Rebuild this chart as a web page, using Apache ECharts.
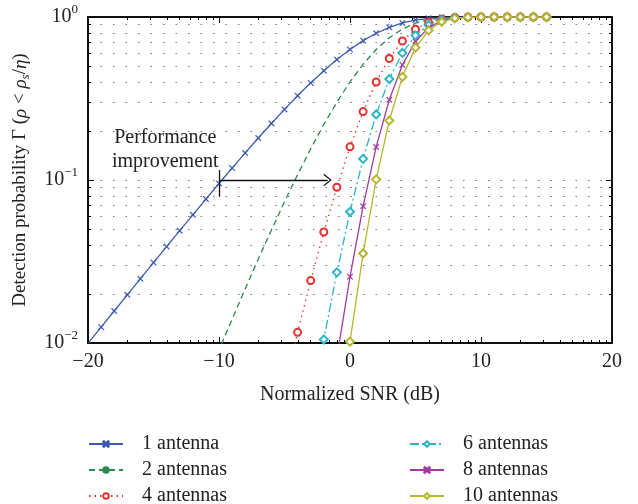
<!DOCTYPE html>
<html><head><meta charset="utf-8">
<script src="https://cdn.jsdelivr.net/npm/echarts@6/dist/echarts.min.js"></script>
<style>html,body{margin:0;padding:0;background:#fff}#c{width:638px;height:504px}</style>
</head><body><div id="c"></div>
<script>
// ---- data ----
const snr = [-20,-19,-18,-17,-16,-15,-14,-13,-12,-11,-10,-9,-8,-7,-6,-5,-4,-3,-2,-1,0,1,2,3,4,5,6,7,8,9,10,11,12,13,14,15];
const seriesNames = ['1 antenna','2 antennas','4 antennas','6 antennas','8 antennas','10 antennas'];
const ant1 = [0.00995,0.01251,0.01572,0.01976,0.02481,0.03113,0.03903,0.04888,0.06115,0.07636,
              0.09516,0.1183,0.1466,0.1809,0.2221,0.2711,0.3284,0.3942,0.4679,0.5481,
              0.6321,0.7160,0.7950,0.8640,0.9189,0.9577,0.9813,0.9933,0.9982,0.9996,
              1,1,1,1,1,1];
const ant2 = ['-','-','-','-','-','-','-','-','-',0.00583,
              0.009056,0.01399,0.02148,0.03272,0.04934,0.07350,0.1079,0.1554,0.2189,0.3004,
              0.3996,0.5127,0.6321,0.7465,0.8444,0.9171,0.9630,0.9867,0.9964,0.9993,
              0.9999,1,1,1,1,1];
const ant4 = ['-','-','-','-','-','-','-','-','-','-','-','-','-','-','-',
              0.005402,0.01163,0.02414,0.04794,0.09026,0.1597,0.2629,0.3995,0.5573,0.7129,0.8411,0.9274,0.9736,0.9927,0.9986,0.9998,
              1,1,1,1,1];
const ant6 = ['-','-','-','-','-','-','-','-','-','-','-','-','-','-','-','-','-',
              0.003752,0.01050,0.02712,0.06380,0.1348,0.2525,0.4161,0.6020,0.7714,0.8931,0.9607,0.9891,0.9979,0.9997,
              1,1,1,1,1];
const ant8 = ['-','-','-','-','-','-','-','-','-','-','-','-','-','-','-','-','-','-',
              0.002298,0.008147,0.02549,0.06910,0.1596,0.3106,0.5083,0.7075,0.8601,0.9480,0.9855,0.9972,0.9996,
              1,1,1,1,1];
const ant10 = ['-','-','-','-','-','-','-','-','-','-','-','-','-','-','-','-','-','-','-',
              0.002448,0.01019,0.03543,0.1009,0.2319,0.4292,0.6489,0.8283,0.9354,0.9820,0.9965,0.9995,
              1,1,1,1,1];
const allValues = [ant1, ant2, ant4, ant6, ant8, ant10];

// ticks
const xDecades = [-20,-10,0,10];
const xMinorOffsets = [3.0103,4.7712,6.0206,6.9897,7.7815,8.4510,9.0309,9.5424];
const yMinor = [0.02,0.03,0.04,0.05,0.06,0.07,0.08,0.09,0.2,0.3,0.4,0.5,0.6,0.7,0.8,0.9];

// annotation
const annoText = 'Performance\nimprovement';
const annoTextAt = [-14.1, 0.153];
const arrowFrom = [-10, 0.1];
const arrowTo = [-1.7, 0.1];
const barFrom = [-10, 0.115];
const barTo = [-10, 0.079];

// ---- style ----
const FONT = '"Liberation Serif","DejaVu Serif",serif';
const FS = 20;
const colors = ['#3d5aae','#2a8a52','#e8302f','#2bb5c6','#a23aa0','#b5b52e'];
const lineTypes = ['solid',[6,4],[1.5,4],[9,3,2,3],'solid','solid'];
const XPATH = 'path://M0,1.2 L1.2,0 L5,3.8 L8.8,0 L10,1.2 L6.2,5 L10,8.8 L8.8,10 L5,6.2 L1.2,10 L0,8.8 L3.8,5 Z';
const symbols = [XPATH,'circle','emptyCircle','emptyDiamond',XPATH,'emptyDiamond'];
const symbolSizes = [6,0,7,8,6,8];
const showSym = [true,false,true,true,true,true];
const CHEVRON = 'path://M0,20 L10,0 L20,20 L17.5,20 L10,4.5 L2.5,20 Z';
const legendLeft = [88,88,88,409,409,409];
const legendTop = [434,460,486,434,460,486];

const xMinor = [];
xDecades.forEach(d => xMinorOffsets.forEach(o => xMinor.push(d + o)));

function minus(v){ return v < 0 ? '\u2212' + Math.abs(v) : String(v); }

const axisLine = {show:true, onZero:false, lineStyle:{color:'#000', width:1.5}};
function xAxisCfg(pos, major, show) {
  return {
    type:'value', position:pos, min:-20, max:20, interval:10,
    axisLine: axisLine,
    axisTick: major ? {show:true, inside:true, length:6, lineStyle:{color:'#000'}}
                    : {show:true, inside:true, length:3, customValues:xMinor, lineStyle:{color:'#000'}},
    axisLabel: {show: show, formatter: minus, fontFamily: FONT, fontSize: FS, color:'#222', margin: 9},
    splitLine:{show:false}
  };
}
function yAxisCfg(pos, major, show) {
  return {
    type:'log', logBase:10, position:pos, min:0.01, max:1,
    axisLine: axisLine,
    axisTick: major ? {show:true, inside:true, length:6, lineStyle:{color:'#000'}}
                    : {show:true, inside:true, length:3, customValues:yMinor, lineStyle:{color:'#000'}},
    axisLabel: {show: show, fontFamily: FONT, color:'#222', margin: 10,
      formatter: v => { const e = Math.round(Math.log10(v)); return '{b|10}{s|' + minus(e) + '}'; },
      rich: {b:{fontSize:FS, fontFamily:FONT, color:'#222'}, s:{fontSize:13, fontFamily:FONT, color:'#222', padding:[0,0,14,0]}}
    },
    splitLine: {show: pos === 'left', lineStyle:{color:'#777', width:1, type:[1.5,11]}}
  };
}

const xAxes = [xAxisCfg('bottom', true, true), xAxisCfg('bottom', false, false), xAxisCfg('top', true, false), xAxisCfg('top', false, false)];
xAxes[0].name = 'Normalized SNR (dB)';
xAxes[0].nameLocation = 'middle';
xAxes[0].nameGap = 42;
xAxes[0].nameTextStyle = {fontFamily: FONT, fontSize: FS, color:'#222'};
const yAxes = [yAxisCfg('left', true, true), yAxisCfg('left', false, false), yAxisCfg('right', true, false), yAxisCfg('right', false, false)];
yAxes[0].name = 'Detection probability \u0393 ({i|\u03c1} < {i|\u03c1}{sub|s}/{i|\u03b7})';
yAxes[0].nameLocation = 'middle';
yAxes[0].nameGap = 56;
yAxes[0].nameTextStyle = {fontFamily: FONT, fontSize: 19, color:'#222',
  rich: {i:{fontStyle:'italic', fontFamily:FONT, fontSize:19, color:'#222'},
         sub:{fontStyle:'italic', fontFamily:FONT, fontSize:13, color:'#222', padding:[10,0,0,0]}}};

const series = seriesNames.map((name, i) => ({
  name: name, type:'line', xAxisIndex:0, yAxisIndex:0,
  data: snr.map((x, k) => [x, allValues[i][k]]),
  symbol: symbols[i], symbolSize: symbolSizes[i], showSymbol: showSym[i],
  lineStyle: {color: colors[i], width: 1.3, type: lineTypes[i]},
  itemStyle: {color: colors[i], borderColor: colors[i], borderWidth: (symbols[i] === XPATH ? 0.3 : 1.4)},
  emphasis: {disabled: true}, animation:false, clip:true, z: 3 + i
}));

series[0].markLine = {
  silent:true, animation:false,
  label:{show:false},
  lineStyle:{color:'#111', width:1.3, type:'solid'},
  data: [
    [{coord: arrowFrom, symbol:'none'}, {coord: arrowTo, symbol: CHEVRON, symbolSize:[13,8]}],
    [{coord: barFrom, symbol:'none'}, {coord: barTo, symbol:'none'}]
  ]
};
series[0].markPoint = {
  silent:true, animation:false, symbol:'circle', symbolSize:0,
  label:{show:true, position:'inside', formatter: annoText, fontFamily: FONT, fontSize: FS, color:'#222', lineHeight: 24},
  data: [{coord: annoTextAt}]
};

const legends = seriesNames.map((name, i) => ({
  data: [name], left: legendLeft[i], top: legendTop[i],
  orient:'vertical', itemWidth:34, itemHeight:7, padding:0,
  textStyle:{fontFamily:FONT, fontSize:FS, color:'#222', padding:[0,0,0,14]},
  selectedMode:false
}));

const option = {
  animation:false,
  backgroundColor:'#fff',
  grid: {left:88, right:26, top:17, bottom:161},
  xAxis: xAxes,
  yAxis: yAxes,
  legend: legends,
  series: series
};
const chart = echarts.init(document.getElementById('c'), null, {renderer:'canvas'});
chart.setOption(option);
</script>
</body></html>
